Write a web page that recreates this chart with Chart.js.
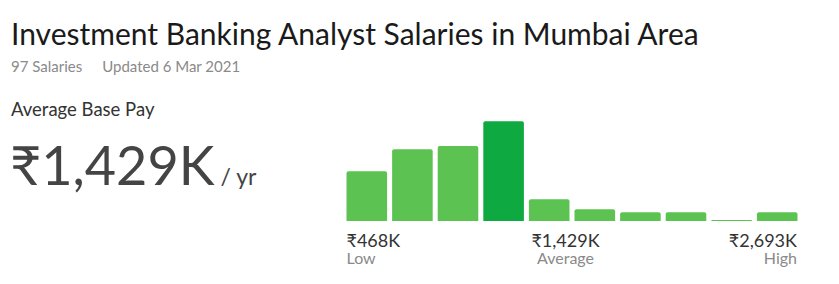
<!DOCTYPE html>
<html>
<head>
<meta charset="utf-8">
<script src="https://cdn.jsdelivr.net/npm/chart.js@4"></script>
<style>
  html, body { margin: 0; padding: 0; background: #fff; }
  body { width: 839px; height: 284px; position: relative; overflow: hidden; font-family: Lato, "Noto Sans", sans-serif; }
  .t { position: absolute; white-space: nowrap; line-height: 1; }
  #title { left: 11px; top: 18px; font-size: 30px; color: #1a1a1a; }
  #sub { left: 11px; top: 59px; font-size: 15px; color: #8a8a8a; }
  #sub span + span { margin-left: 20px; }
  #avgLabel { left: 11px; top: 100px; font-size: 18.5px; color: #333; }
  #bigPay { left: 10px; top: 138px; font-size: 54px; color: #444; }
  #bigPay small { font-size: 23px; margin-left: 6px; }
  #chartBox { position: absolute; left: 344px; top: 111px; width: 456px; height: 110px; }
  .val { font-size: 18px; color: #333; top: 231px; }
  .cap { font-size: 16px; color: #8a8a8a; top: 250px; }
</style>
</head>
<body>
<div class="t" id="title">Investment Banking Analyst Salaries in Mumbai Area</div>
<div class="t" id="sub"><span>97 Salaries</span><span>Updated 6 Mar 2021</span></div>
<div class="t" id="avgLabel">Average Base Pay</div>
<div class="t" id="bigPay">₹1,429K<small>/ yr</small></div>
<div id="chartBox"><canvas id="chart"></canvas></div>
<div id="marks"></div>
<script>
// salary distribution bins (relative bar heights)
const binLabels = ['1', '2', '3', '4', '5', '6', '7', '8', '9', '10'];
const binHeights = [49.7, 71.7, 75, 99.7, 21.7, 11.7, 8.7, 8.7, 1, 8.7];
const averageBin = 3;

// range labels under the chart
const rangeValues = ['₹468K', '₹1,429K', '₹2,693K'];
const rangeCaptions = ['Low', 'Average', 'High'];

const lightGreen = '#5cc352';
const darkGreen = '#0eaa41';

new Chart(document.getElementById('chart'), {
  type: 'bar',
  data: {
    labels: binLabels,
    datasets: [{
      data: binHeights,
      backgroundColor: binHeights.map((v, i) => i === averageBin ? darkGreen : lightGreen),
      borderRadius: 2,
      borderSkipped: 'bottom',
      barPercentage: 0.89,
      categoryPercentage: 1
    }]
  },
  options: {
    responsive: true,
    maintainAspectRatio: false,
    animation: false,
    layout: { padding: 0 },
    plugins: { legend: { display: false }, tooltip: { enabled: false } },
    scales: {
      x: { display: false },
      y: { display: false, min: 0, max: 110 }
    }
  }
});

// low / average / high markers
const marks = document.getElementById('marks');
const spots = [
  { left: 346.5, align: 'left' },
  { left: 565.5, align: 'center' },
  { left: 797, align: 'right' }
];
spots.forEach((s, i) => {
  [['val', rangeValues[i]], ['cap', rangeCaptions[i]]].forEach(([cls, txt]) => {
    const d = document.createElement('div');
    d.className = 't ' + cls;
    d.textContent = txt;
    if (s.align === 'left') d.style.left = s.left + 'px';
    else if (s.align === 'right') d.style.right = (839 - s.left) + 'px';
    else { d.style.left = s.left + 'px'; d.style.transform = 'translateX(-50%)'; }
    marks.appendChild(d);
  });
});
</script>
</body>
</html>
